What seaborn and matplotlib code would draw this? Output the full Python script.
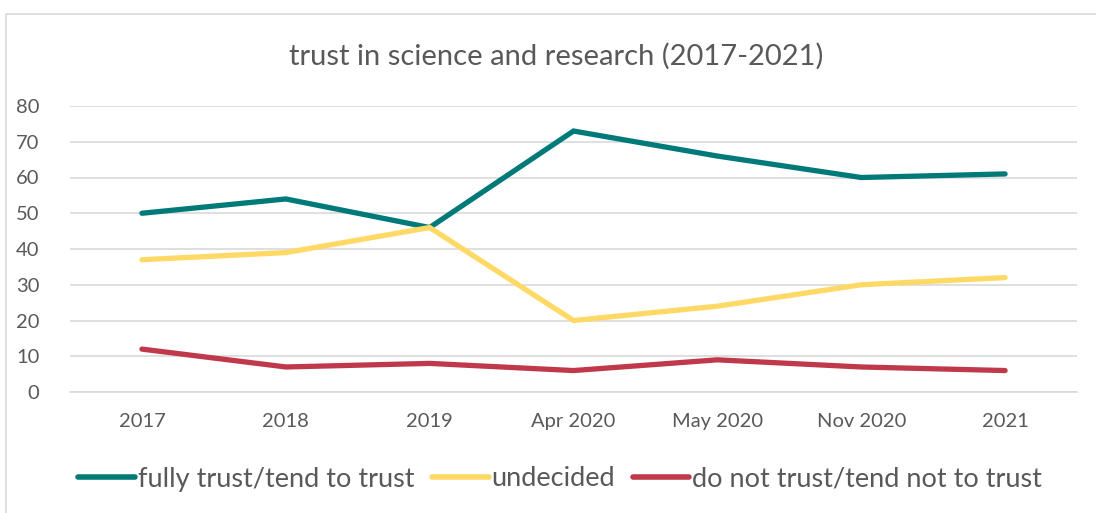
import matplotlib
matplotlib.use("Agg")
import matplotlib.pyplot as plt
import seaborn as sns
import pandas as pd
from matplotlib.patches import Rectangle
from matplotlib.lines import Line2D

periods = ["2017", "2018", "2019", "Apr 2020", "May 2020", "Nov 2020", "2021"]
trust = [50, 54, 46, 73, 66, 60, 61]
undecided = [37, 39, 46, 20, 24, 30, 32]
distrust = [12, 7, 8, 6, 9, 7, 6]
series_names = ["fully trust/tend to trust", "undecided", "do not trust/tend not to trust"]
colors = ["#007A78", "#FFD966", "#C0394B"]
yticks = [0, 10, 20, 30, 40, 50, 60, 70, 80]

sns.set_theme(style="white")
plt.rcParams['font.family'] = ['Lato', 'DejaVu Sans']

rows = []
for name, vals in zip(series_names, [trust, undecided, distrust]):
    for i, (p, v) in enumerate(zip(periods, vals)):
        rows.append({"idx": i, "period": p, "series": name, "value": v})
df = pd.DataFrame(rows)

fig = plt.figure(figsize=(10.96, 5.13), dpi=100)
ax = fig.add_axes([70/1096, 1-392/513, 1007/1096, 286/513])

sns.lineplot(data=df, x="idx", y="value", hue="series", hue_order=series_names,
             palette=colors, linewidth=3.8, ax=ax, legend=False, sort=False,
             solid_capstyle="round", solid_joinstyle="miter")

ax.set_xlim(-0.5, len(periods) - 0.5)
ax.set_ylim(0, 80)
ax.set_yticks(yticks)
ax.set_yticklabels([str(t) for t in yticks], fontsize=14.5, color="#595959")
ax.set_xticks(range(len(periods)))
ax.set_xticklabels(periods, fontsize=14.5, color="#595959")
ax.set_xticks([i - 0.5 for i in range(len(periods) + 1)], minor=True)
ax.tick_params(axis="x", which="major", length=0, pad=15)
ax.tick_params(axis="x", which="minor", length=7, color="#D9D9D9", width=1.2)
ax.tick_params(axis="y", length=0, pad=22)
ax.grid(axis="y", color="#D9D9D9", linewidth=1.2)
ax.set_axisbelow(True)
for s in ["top", "right", "left"]:
    ax.spines[s].set_visible(False)
ax.spines["bottom"].set_color("#D9D9D9")
ax.spines["bottom"].set_linewidth(1.2)
ax.set_xlabel("")
ax.set_ylabel("")

fig.text(556/1096, 1-56/513, "trust in science and research (2017-2021)",
         ha="center", va="center", fontsize=21, color="#595959")

handles = [Line2D([0], [0], color=c, linewidth=4, solid_capstyle="round") for c in colors]
fig.legend(handles, series_names, loc="center", bbox_to_anchor=(560/1096, 1-479/513),
           ncol=3, frameon=False, fontsize=19.5, labelcolor="#595959",
           handlelength=2.1, handletextpad=0.1, columnspacing=0.65)

fig.patches.append(Rectangle((6/1096, -0.2), 1.2, 1 - 14/513 + 0.2, transform=fig.transFigure,
                             fill=False, edgecolor="#D9D9D9", linewidth=1.2))

fig.savefig("out.png", dpi=100)
